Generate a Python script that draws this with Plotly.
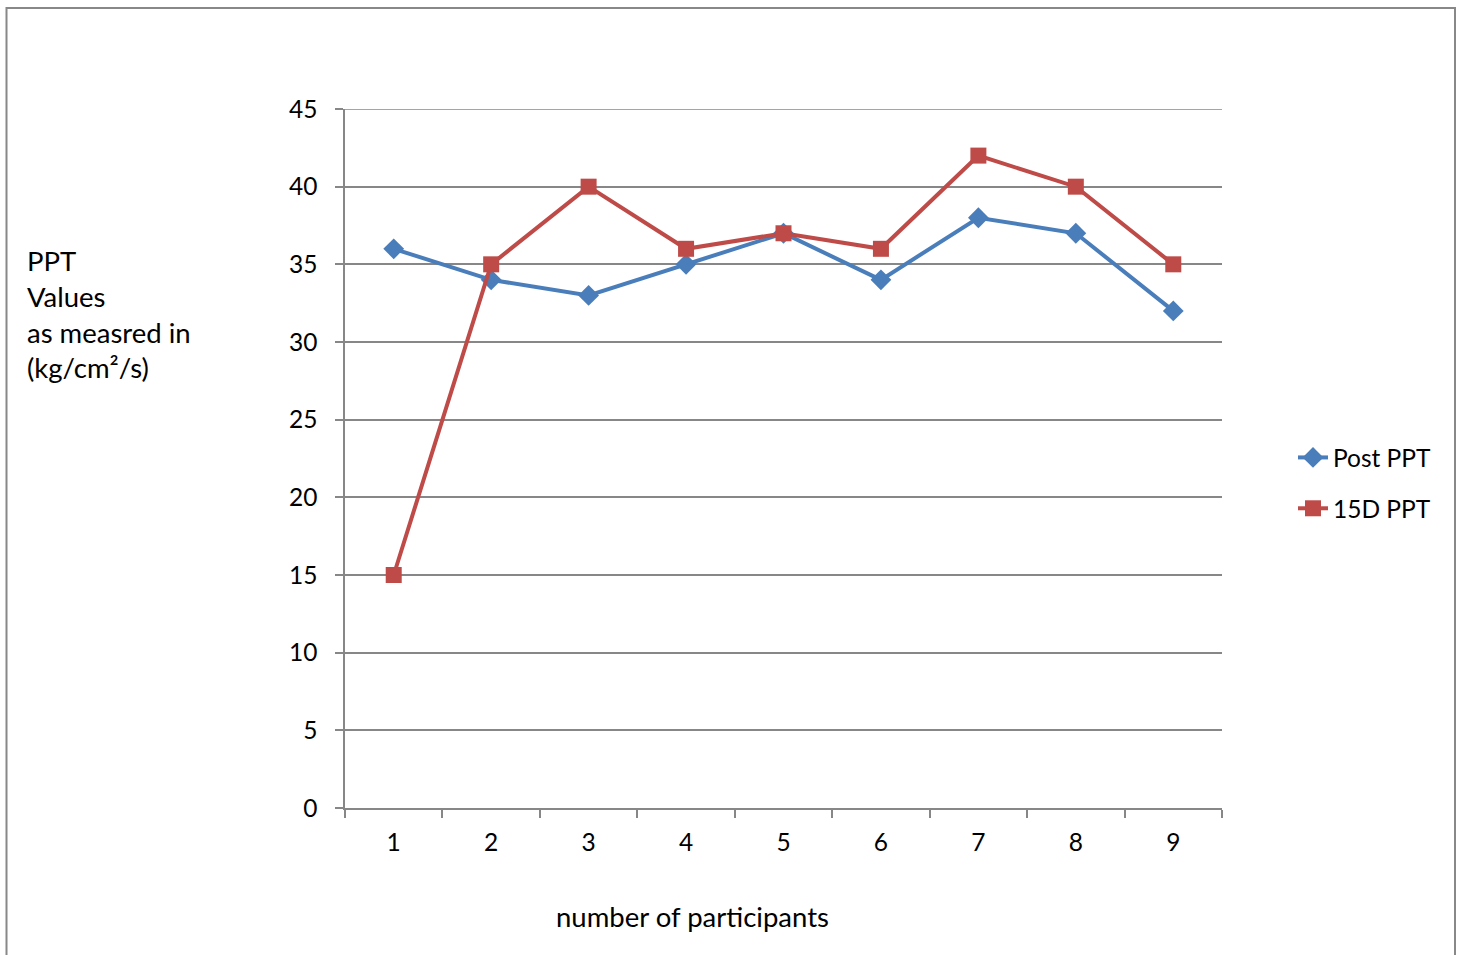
import plotly.graph_objects as go

# Participant index and pressure pain threshold readings
participants = [1, 2, 3, 4, 5, 6, 7, 8, 9]
post_ppt = [36, 34, 33, 35, 37, 34, 38, 37, 32]
ppt_15d = [15, 35, 40, 36, 37, 36, 42, 40, 35]
y_ticks = [0, 5, 10, 15, 20, 25, 30, 35, 40, 45]

W, H = 1459, 955
L, R, T, B = 345, 1222, 109, 808
pw, ph = R - L, B - T

def px_x(p):
    return (p - L) / pw

def px_y(p):
    return (B - p) / ph

FONT = "Lato, Calibri, Carlito, 'Open Sans', sans-serif"
GRID = "#878787"

fig = go.Figure()
fig.add_trace(go.Scatter(
    x=participants, y=post_ppt, name="Post PPT", mode="lines+markers",
    legendgroup="post",
    line=dict(color="#4A7EBB", width=4),
    marker=dict(symbol="diamond", size=16, color="#4A7EBB"),
))
fig.add_trace(go.Scatter(
    x=participants, y=ppt_15d, name="15D PPT", mode="lines+markers",
    legendgroup="d15",
    line=dict(color="#BE4B48", width=4),
    marker=dict(symbol="square", size=16, color="#BE4B48"),
))

fig.update_layout(
    width=W, height=H,
    margin=dict(l=L, r=W - R, t=T, b=H - B),
    paper_bgcolor="white", plot_bgcolor="white",
    font=dict(family=FONT, size=24, color="black"),
    showlegend=True,
    legend=dict(x=px_x(1293), y=px_y(483), xanchor="left", yanchor="middle",
                font=dict(size=24.5), tracegroupgap=16, itemwidth=30,
                traceorder="grouped", bgcolor="rgba(0,0,0,0)"),
    xaxis=dict(
        range=[0.5, 9.5], tickvals=participants, ticktext=[str(p) for p in participants],
        showgrid=False, zeroline=False, showline=True, linecolor=GRID, linewidth=1.5,
        ticks="outside", ticklen=12, tickcolor="rgba(0,0,0,0)",
        minor=dict(tickvals=[i + 0.5 for i in range(10)], ticks="outside",
                   ticklen=8, tickcolor=GRID, tickwidth=1.5, showgrid=False),
        tickfont=dict(size=24.5),
    ),
    yaxis=dict(
        range=[0, 45], tickvals=y_ticks,
        showgrid=True, gridcolor=GRID, gridwidth=1.5, zeroline=False,
        showline=True, linecolor=GRID, linewidth=1.5,
        ticks="outside", ticklen=8, tickcolor=GRID, tickwidth=1.5,
        ticklabelstandoff=13, tickfont=dict(size=24.5),
    ),
)

# Gridline at the top of the value range
fig.add_shape(type="line", xref="paper", yref="y", x0=0, x1=1, y0=45, y1=45,
              line=dict(color=GRID, width=1.5), layer="below")

# Outer chart border
fig.add_shape(type="rect", xref="paper", yref="paper",
              x0=px_x(6.5), x1=px_x(1455), y0=px_y(965), y1=px_y(8),
              line=dict(color="#888888", width=2), fillcolor="rgba(0,0,0,0)")

fig.add_annotation(xref="paper", yref="paper", x=px_x(25), y=px_y(242),
                   xanchor="left", yanchor="top", align="left", showarrow=False,
                   text="PPT<br>Values<br>as measred in<br>(kg/cm²/s)",
                   font=dict(size=27.5))
fig.add_annotation(xref="paper", yref="paper", x=px_x(692), y=px_y(916),
                   xanchor="center", yanchor="middle", showarrow=False,
                   text="number of participants", font=dict(size=27.5))

fig.write_html("out.html")
